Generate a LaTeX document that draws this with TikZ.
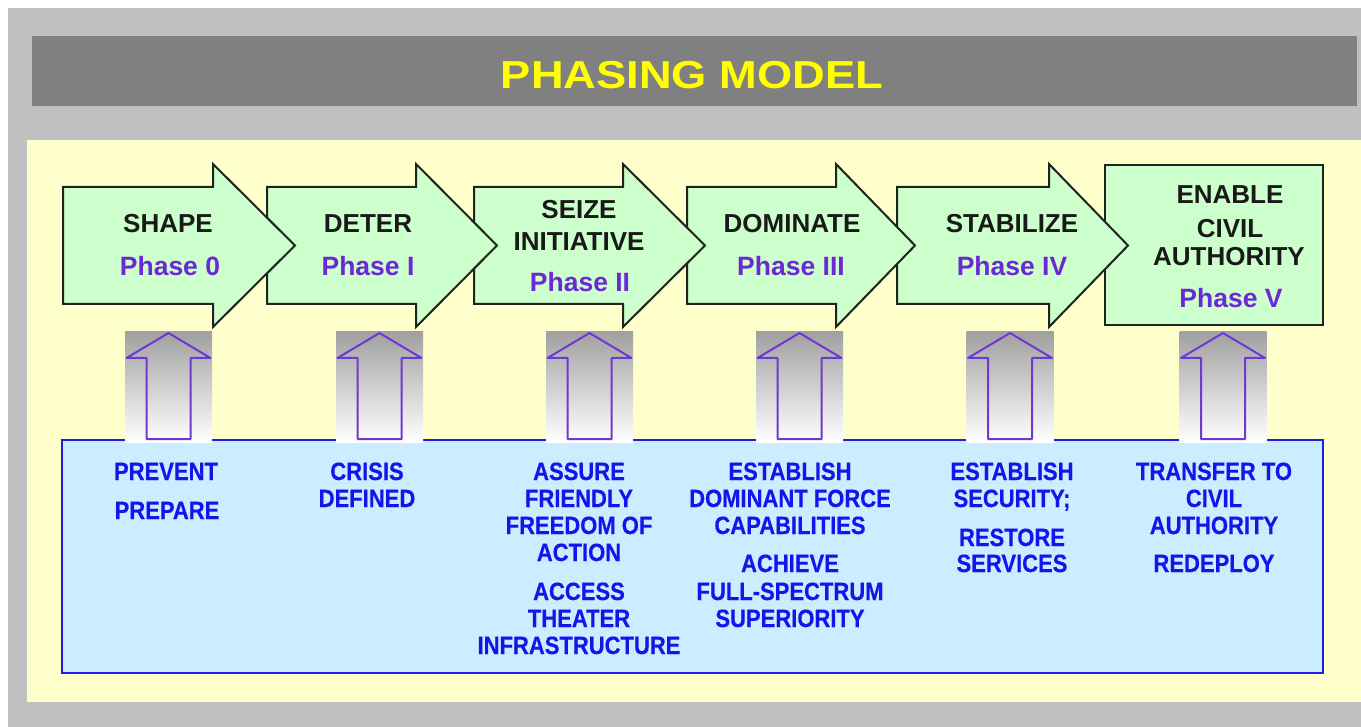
\documentclass[tikz,border=0pt]{standalone}
\usepackage{fontspec}
\setmainfont{Liberation Sans}
\newfontfamily\titlefont[FakeStretch=1.16]{Liberation Sans}
\newfontfamily\lowfont[FakeStretch=0.88,FakeBold=0.4]{Liberation Sans}
\definecolor{outergray}{RGB}{192,192,192}
\definecolor{bargray}{RGB}{128,128,128}
\definecolor{titleyellow}{RGB}{255,255,0}
\definecolor{panelyellow}{RGB}{255,255,204}
\definecolor{phasegreen}{RGB}{204,255,204}
\definecolor{edgedark}{RGB}{30,35,30}
\definecolor{phasepurple}{RGB}{108,40,212}
\definecolor{uppurple}{RGB}{112,56,210}
\definecolor{boxblue}{RGB}{204,236,255}
\definecolor{lineblue}{RGB}{30,30,230}
\definecolor{textblue}{RGB}{20,20,235}
\definecolor{shadegray}{RGB}{160,160,160}
\begin{document}
\begin{tikzpicture}[x=1pt,y=-1pt,
  phasearrow/.style={fill=phasegreen,draw=edgedark,line width=2pt,line join=miter},
  uparrow/.style={draw=uppurple,line width=2pt,line join=round},
  phasename/.style={anchor=base,inner sep=0pt,font=\fontsize{26}{30}\selectfont\bfseries,text=black!90},
  phasenum/.style={anchor=base,inner sep=0pt,font=\fontsize{26.5}{30}\selectfont\bfseries,text=phasepurple},
  lowtext/.style={anchor=base,inner sep=0pt,font=\lowfont\fontsize{25}{27}\selectfont\bfseries,text=textblue},
  titletext/.style={anchor=base,inner sep=0pt,font=\titlefont\fontsize{39}{44}\selectfont\bfseries,text=titleyellow}]
\useasboundingbox (0,0) rectangle (1361,727);
\fill[white] (0,0) rectangle (1361,727);
\fill[outergray] (8,8) rectangle (1361,727);
% title bar
\fill[bargray] (32,36) rectangle (1357,106);
\node[titletext] (title) at (692,89) {PHASING MODEL};
% yellow panel
\fill[panelyellow] (27,140) rectangle (1361,702);
% blue box
\draw[fill=boxblue,draw=lineblue,line width=2.5pt] (62,440) rectangle (1323,673);
% up arrows with shaded backgrounds
\foreach \c [count=\i] in {168.5,379.5,589.5,799.5,1010,1223}{
  \shade[top color=shadegray,bottom color=white] (\c-43.5,332) rectangle (\c+43.5,442);
  \draw[uparrow] (\c,333) -- (\c+42,358) -- (\c+22,358) -- (\c+22,439) -- (\c-22,439) -- (\c-22,358) -- (\c-42,358) -- cycle;
}
% final box (drawn first, under the arrow heads)
\draw[phasearrow] (1105,165) rectangle (1323,325);
% phase arrows, right to left so each head lies over the next body
\foreach \L/\H/\T in {897/1049/1128, 687/836/915, 474/623/705, 267/416/497, 63/213/295}{
  \draw[phasearrow] (\L,187) -- (\H,187) -- (\H,164) -- (\T,245.5) -- (\H,327) -- (\H,304) -- (\L,304) -- cycle;
}
% phase labels
\node[phasename] (shape) at (168,233) {SHAPE};
\node[phasenum]  (p0) at (170,276) {Phase 0};
\node[phasename] (deter) at (368,233) {DETER};
\node[phasenum]  (p1) at (368,276) {Phase I};
\node[phasename] (seize) at (579,219) {SEIZE};
\node[phasename] (init) at (579,251) {INITIATIVE};
\node[phasenum]  (p2) at (580,292) {Phase II};
\node[phasename] (dom) at (792,233) {DOMINATE};
\node[phasenum]  (p3) at (791,276) {Phase III};
\node[phasename] (stab) at (1012,233) {STABILIZE};
\node[phasenum]  (p4) at (1012,276) {Phase IV};
\node[phasename] (enable) at (1230,204) {ENABLE};
\node[phasename] (civil) at (1230,238) {CIVIL};
\node[phasename] (auth) at (1229,266) {AUTHORITY};
\node[phasenum]  (p5) at (1231,308) {Phase V};
% lower texts
\foreach \t/\x/\y [count=\i] in {
  PREVENT/166/480, PREPARE/167/519,
  CRISIS/367/480, DEFINED/367/507,
  ASSURE/579/480, FRIENDLY/579/507, FREEDOM OF/579/534, ACTION/579/561,
  ACCESS/579/600, THEATER/579/627, INFRASTRUCTURE/579/654,
  ESTABLISH/790/480, DOMINANT FORCE/790/507, CAPABILITIES/790/534,
  ACHIEVE/790/572, FULL-SPECTRUM/790/600, SUPERIORITY/790/627,
  ESTABLISH/1012/480, SECURITY;/1012/507, RESTORE/1012/546, SERVICES/1012/572,
  TRANSFER TO/1214/480, CIVIL/1214/507, AUTHORITY/1214/534, REDEPLOY/1214/572}{
  \node[lowtext] (low\i) at (\x,\y) {\t};
}
\end{tikzpicture}
\end{document}
